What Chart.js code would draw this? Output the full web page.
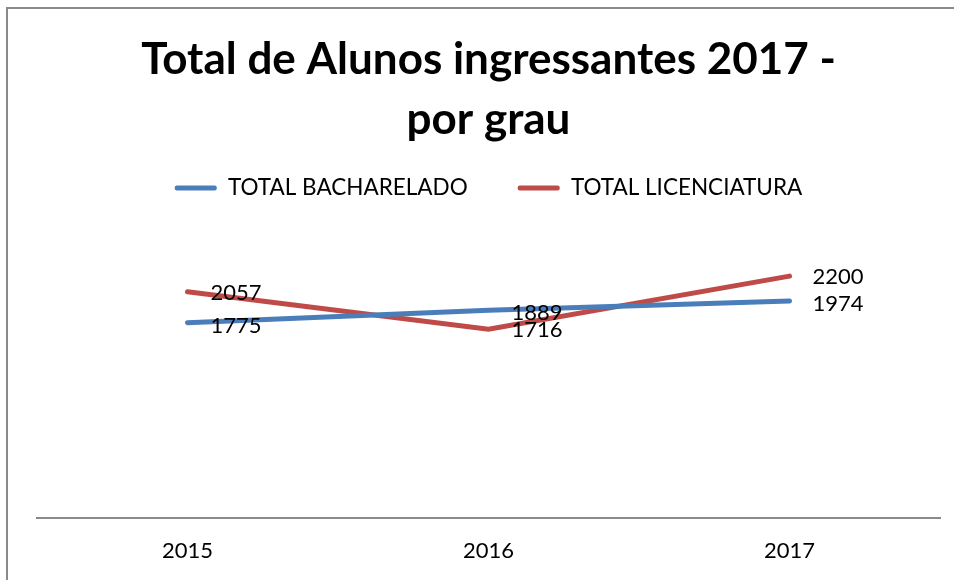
<!DOCTYPE html>
<html>
<head>
<meta charset="utf-8">
<script src="https://cdn.jsdelivr.net/npm/chart.js@4"></script>
<style>
  html, body { margin: 0; padding: 0; background: #fff; }
  #wrap { position: relative; width: 954px; height: 580px; overflow: hidden; }
  #frame { position: absolute; left: 6px; top: 7px; width: 980px; height: 600px; border: 2px solid #8a8a8a; box-sizing: border-box; }
  canvas { position: absolute; left: 0; top: 0; }
</style>
</head>
<body>
<div id="wrap">
  <div id="frame"></div>
  <canvas id="chart" width="954" height="580"></canvas>
</div>
<script>
const years = ["2015", "2016", "2017"];
const bacharelado = [1775, 1889, 1974];
const licenciatura = [2057, 1716, 2200];
const titleLines = ["Total de Alunos ingressantes 2017 -", "por grau"];

const FONT = "Lato, 'Open Sans', sans-serif";

// value labels to the right of each point, like the spreadsheet original
const pointLabels = {
  id: "pointLabels",
  afterDatasetsDraw(chart) {
    const ctx = chart.ctx;
    ctx.save();
    ctx.font = `22px ${FONT}`;
    ctx.fillStyle = "#000";
    ctx.textBaseline = "middle";
    ctx.textAlign = "left";
    chart.data.datasets.forEach((ds, i) => {
      chart.getDatasetMeta(i).data.forEach((pt, j) => {
        ctx.fillText(String(ds.data[j]), pt.x + 23, pt.y + (i === 0 ? 3 : 1));
      });
    });
    ctx.restore();
  },
};

// extra room under the legend before the plot starts
const legendGap = {
  id: "legendGap",
  afterInit(chart) {
    const fit = chart.legend.fit;
    chart.legend.fit = function () {
      fit.call(this);
      this.height += 34;
    };
  },
};

new Chart(document.getElementById("chart"), {
  type: "line",
  data: {
    labels: years,
    datasets: [
      { label: "TOTAL BACHARELADO", data: bacharelado, borderColor: "#4a7ebb", backgroundColor: "#4a7ebb" },
      { label: "TOTAL LICENCIATURA", data: licenciatura, borderColor: "#be4b48", backgroundColor: "#be4b48" },
    ],
  },
  options: {
    responsive: false,
    animation: false,
    layout: { padding: { left: 37, right: 14, top: 30, bottom: -4 } },
    elements: {
      line: { borderWidth: 5, tension: 0, borderCapStyle: "round", borderJoinStyle: "miter" },
      point: { radius: 0, hoverRadius: 0 },
    },
    plugins: {
      title: {
        display: true,
        text: titleLines,
        color: "#000",
        font: { family: FONT, size: 44, weight: "bold", lineHeight: 1.36 },
        padding: { top: 0, bottom: -23 },
      },
      legend: {
        labels: {
          color: "#000",
          font: { family: FONT, size: 22.5 },
          boxWidth: 42,
          boxHeight: 5,
          padding: 50,
          generateLabels(chart) {
            return chart.data.datasets.map((ds, i) => ({
              text: ds.label,
              fillStyle: ds.borderColor,
              strokeStyle: ds.borderColor,
              lineWidth: 0,
              borderRadius: 2,
              datasetIndex: i,
            }));
          },
        },
      },
      tooltip: { enabled: false },
    },
    scales: {
      x: {
        offset: true,
        grid: { display: false, drawTicks: false },
        border: { display: true, color: "#8a8a8a", width: 2 },
        ticks: { color: "#000", font: { family: FONT, size: 22 }, padding: 20 },
      },
      y: { display: false, min: 0, max: 2500 },
    },
  },
  plugins: [pointLabels, legendGap],
});
</script>
</body>
</html>
